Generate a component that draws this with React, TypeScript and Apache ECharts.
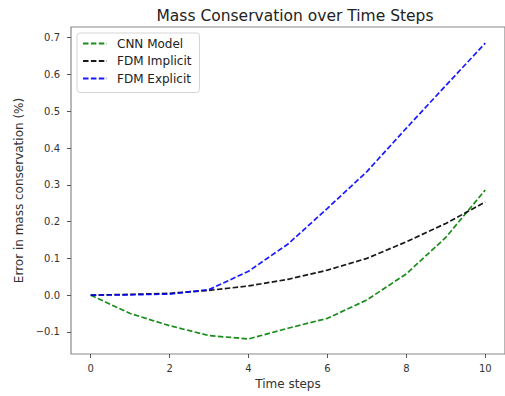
import React, { useEffect, useRef } from "react";
import * as echarts from "echarts";

const timeSteps = [0, 1, 2, 3, 4, 5, 6, 7, 8, 9, 10];
const cnnModel = [0, -0.05, -0.083, -0.11, -0.119, -0.09, -0.063, -0.013, 0.058, 0.157, 0.286];
const fdmImplicit = [0, 0.002, 0.005, 0.013, 0.025, 0.043, 0.068, 0.1, 0.145, 0.195, 0.253];
const fdmExplicit = [0, 0.001, 0.003, 0.015, 0.065, 0.139, 0.236, 0.336, 0.454, 0.57, 0.685];
const xTicks = [0, 2, 4, 6, 8, 10];
const yTicks = [-0.1, 0, 0.1, 0.2, 0.3, 0.4, 0.5, 0.6, 0.7];

const FONT = "DejaVu Sans";

export default function App() {
  const ref = useRef<HTMLDivElement>(null);
  useEffect(() => {
    if (!ref.current) return;
    const chart = echarts.init(ref.current, null, { renderer: "svg" });
    const mk = (name: string, data: number[], color: string) => ({
      name,
      type: "line",
      data: timeSteps.map((t, i) => [t, data[i]]),
      symbol: "none",
      lineStyle: { color, width: 1.7, type: [5.5, 2.4], opacity: 0.9 },
      itemStyle: { color },
    });
    const axisCommon = {
      axisLine: { show: false, onZero: false },
      axisTick: { show: true, length: 4, lineStyle: { color: "#555", width: 1 } },
      splitLine: { show: false },
      axisLabel: { color: "#333", fontFamily: FONT, fontSize: 10 },
      nameTextStyle: { color: "#333", fontFamily: FONT, fontSize: 12 },
    };
    chart.setOption({
      animation: false,
      title: {
        text: "Mass Conservation over Time Steps",
        left: 290,
        textAlign: "center",
        top: 3,
        textStyle: { fontFamily: FONT, fontSize: 15.5, fontWeight: "normal", color: "#222" },
      },
      legend: {
        orient: "vertical",
        left: 77,
        top: 33,
        padding: [4.5, 8, 8, 5],
        itemGap: 5.5,
        itemWidth: 24,
        itemHeight: 14,
        borderColor: "#d5d5d5",
        borderWidth: 1,
        borderRadius: 3,
        backgroundColor: "rgba(255,255,255,0.9)",
        itemStyle: { opacity: 0 },
        textStyle: { fontFamily: FONT, fontSize: 12, color: "#222", padding: [0, 0, 0, 5] },
        data: ["CNN Model", "FDM Implicit", "FDM Explicit"],
      },
      grid: {
        left: 71,
        top: 27,
        right: -4,
        bottom: 42,
        containLabel: false,
        show: true,
        borderColor: "#888",
        borderWidth: 1.2,
      },
      xAxis: {
        type: "value",
        min: -0.5,
        max: 10.5,
        name: "Time steps",
        nameLocation: "middle",
        nameGap: 24,
        ...axisCommon,
        axisTick: { ...axisCommon.axisTick, customValues: xTicks },
        axisLabel: { ...axisCommon.axisLabel, customValues: xTicks, margin: 9, formatter: (v: number) => String(v) },
      },
      yAxis: {
        type: "value",
        min: -0.16,
        max: 0.729,
        name: "Error in mass conservation (%)",
        nameLocation: "middle",
        nameGap: 44,
        ...axisCommon,
        axisTick: { ...axisCommon.axisTick, customValues: yTicks },
        axisLabel: {
          ...axisCommon.axisLabel,
          customValues: yTicks,
          margin: 11,
          formatter: (v: number) => (v < 0 ? "\u2212" + Math.abs(v).toFixed(1) : v.toFixed(1)),
        },
      },
      series: [
        mk("CNN Model", cnnModel, "#008000"),
        mk("FDM Implicit", fdmImplicit, "#000000"),
        mk("FDM Explicit", fdmExplicit, "#0000ff"),
      ],
    });
    return () => chart.dispose();
  }, []);
  return (
    <div
      ref={ref}
      style={{ position: "absolute", left: 0, top: 0, width: 505, height: 396, background: "#fff" }}
    />
  );
}
